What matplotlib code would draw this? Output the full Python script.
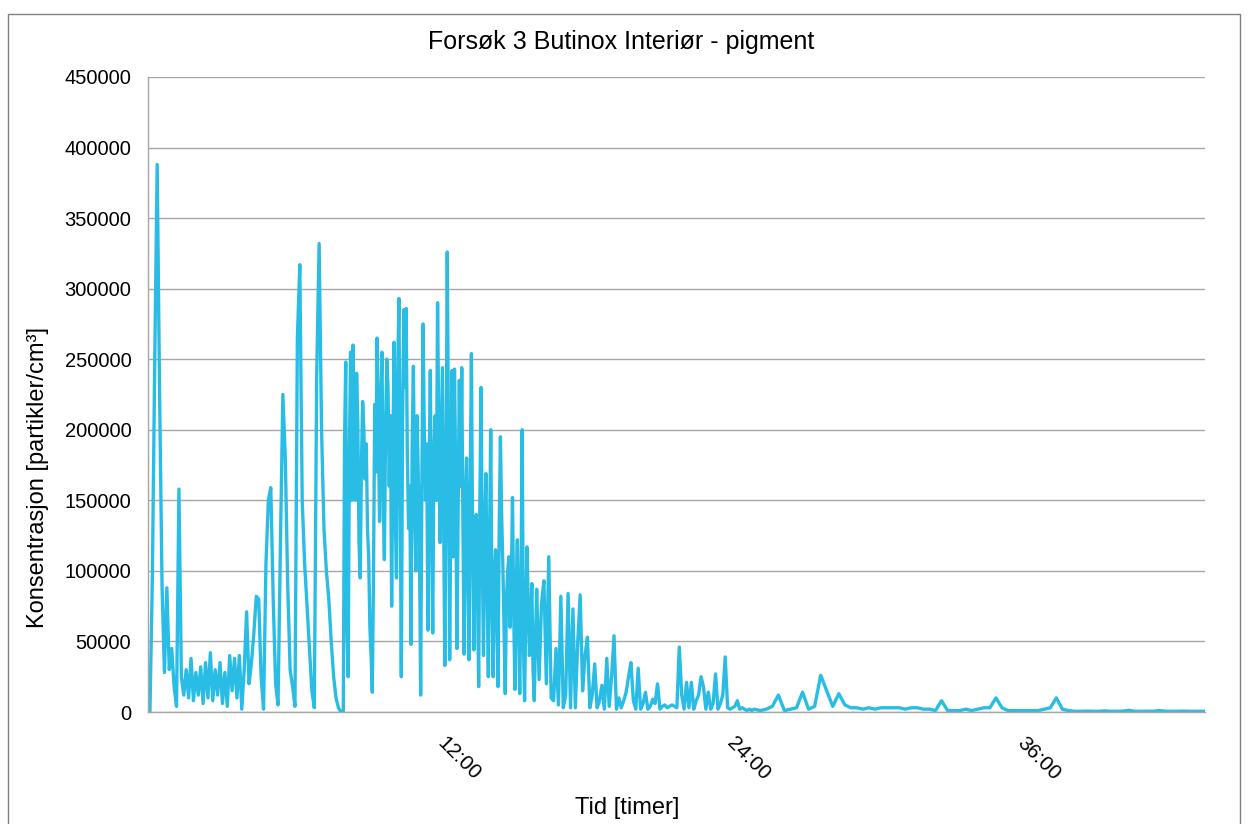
import numpy as np
import matplotlib.pyplot as plt
from matplotlib.patches import Rectangle

plt.rcParams['font.family'] = ['Liberation Sans', 'DejaVu Sans']

# Konsentrasjon i 1000 partikler/cm3
# del A: 0 - 7.9 timer, hvert 0.1 time
delA = [0, 95, 250, 388, 225, 90, 28, 88, 30, 45,
        18, 4, 158, 25, 12, 30, 10, 38, 8, 28,
        12, 32, 6, 35, 10, 42, 8, 30, 12, 35,
        6, 28, 4, 40, 15, 38, 10, 40, 2, 30,
        71, 20, 35, 56, 82, 80, 25, 2, 105, 150,
        159, 80, 20, 5, 120, 225, 180, 90, 30, 18,
        4, 265, 317, 150, 105, 75, 45, 15, 3, 240,
        332, 200, 130, 100, 80, 50, 25, 10, 3, 0]

# del B: 8 - 15.95 timer, hvert 0.05 time (tett periode)
delB = [0, 190, 248, 60, 25, 180, 255, 150, 260, 210,
        150, 240, 205, 120, 95, 175, 220, 200, 165, 190,
        130, 110, 60, 40, 14, 100, 218, 170, 265, 200,
        135, 220, 255, 150, 108, 200, 250, 230, 160, 210,
        75, 180, 262, 140, 95, 240, 293, 170, 25, 200,
        285, 230, 286, 180, 130, 160, 48, 190, 245, 150,
        100, 210, 170, 120, 12, 160, 275, 200, 150, 190,
        58, 170, 242, 130, 56, 185, 210, 150, 290, 200,
        120, 180, 244, 140, 33, 160, 326, 200, 37, 150,
        242, 110, 243, 170, 45, 140, 235, 160, 244, 130,
        41, 150, 180, 100, 37, 160, 254, 120, 44, 110,
        140, 90, 18, 150, 230, 110, 40, 130, 169, 90,
        25, 120, 200, 80, 25, 95, 115, 70, 18, 130,
        195, 140, 105, 60, 13, 80, 100, 110, 60, 90,
        152, 70, 16, 85, 122, 60, 13, 90, 200, 50,
        8, 70, 117, 80, 40, 60, 91, 30, 8, 50]

# del C: 16 - 24.9 timer, hvert 0.1 time
delC = [87, 23, 77, 93, 20, 110, 10, 8, 45, 5,
        82, 3, 12, 84, 3, 73, 3, 50, 83, 15,
        40, 53, 3, 12, 34, 3, 8, 19, 2, 38,
        4, 25, 54, 2, 10, 3, 8, 14, 25, 35,
        8, 2, 31, 2, 6, 14, 2, 4, 9, 6,
        20, 2, 4, 5, 3, 4, 5, 4, 3, 46,
        12, 2, 21, 3, 21, 2, 8, 12, 25, 18,
        2, 14, 2, 6, 27, 2, 6, 12, 39, 3,
        2, 3, 4, 8, 2, 3, 2, 1, 2, 1]

# del D: fra 25 timer, hvert 0.25 time
delD = [2, 1, 2, 4, 12, 1, 2, 3, 14, 2,
        4, 26, 15, 4, 13, 5, 3, 3, 2, 3,
        2, 3, 3, 3, 3, 2, 3, 3, 2, 2,
        1, 8, 1, 1, 1, 2, 1, 2, 3, 3,
        10, 3, 1, 1, 1, 1, 1, 1, 2, 3,
        10, 2, 1, 0.5, 0.5, 0.6, 0.5, 0.5, 0.8, 0.5,
        0.5, 0.6, 1.2, 0.5, 0.5, 0.6, 0.5, 1.0, 0.6, 0.5,
        0.5, 0.6, 0.5, 0.5, 0.5, 0.5]

tA = np.arange(len(delA)) * 0.1
tB = 8 + np.arange(len(delB)) * 0.05
tC = 16 + np.arange(len(delC)) * 0.1
tD = 25 + np.arange(len(delD)) * 0.25
tid = np.concatenate([tA, tB, tC, tD])
konsentrasjon = np.array(delA + delB + delC + delD) * 1000

fig = plt.figure(figsize=(12.48, 8.24), dpi=100)
ax = fig.add_axes([148/1248, 1-712/824, (1205-148)/1248, (712-77)/824])

ax.plot(tid, konsentrasjon, color='#29BDE6', lw=2.4)

ax.set_xlim(-0.08, 43.65)
ax.set_ylim(0, 450000)
ax.set_yticks(range(0, 450001, 50000))
ax.yaxis.set_major_formatter(lambda v, p: f"{int(v)}")
ax.set_xticks([12, 24, 36])
ax.set_xticklabels(['12:00', '24:00', '36:00'])

ax.grid(axis='y', color='#a6a6a6', lw=1)
ax.set_axisbelow(True)
for s in ['top', 'right']:
    ax.spines[s].set_visible(False)
for s in ['left', 'bottom']:
    ax.spines[s].set_color('#a6a6a6')
    ax.spines[s].set_linewidth(1)

ax.tick_params(axis='y', length=0, pad=12, labelsize=14.5)
ax.tick_params(axis='x', length=0, pad=20, labelsize=15)
for lbl in ax.get_xticklabels():
    lbl.set_rotation(-45)
    lbl.set_ha('left')
    lbl.set_va('center')
    lbl.set_rotation_mode('anchor')

fig.text(621/1248, 1-42/824, 'Forsøk 3 Butinox Interiør - pigment',
         ha='center', va='center', fontsize=18)
fig.text(38/1248, 1-478/824, 'Konsentrasjon [partikler/cm³]',
         ha='center', va='center', rotation=90, fontsize=17)
fig.text(627/1248, 1-808/824, 'Tid [timer]',
         ha='center', va='center', fontsize=17)

fig.add_artist(Rectangle((8/1248, -0.05), (1240-8)/1248, 1-14/824+0.05,
                         transform=fig.transFigure, fill=False,
                         ec='#808080', lw=1))

fig.savefig('out.png', dpi=100)
